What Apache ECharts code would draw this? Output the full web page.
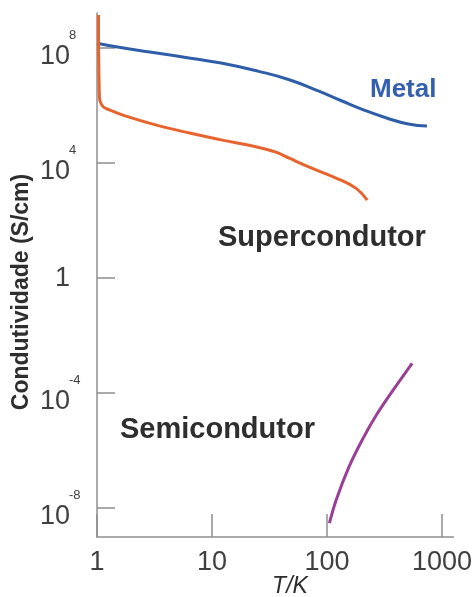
<!DOCTYPE html>
<html><head><meta charset="utf-8">
<script src="https://cdn.jsdelivr.net/npm/echarts@6/dist/echarts.min.js"></script>
<style>html,body{margin:0;padding:0;background:#fff}#c{width:475px;height:597px}</style>
</head><body><div id="c"></div>
<script>
// x: temperature T (K); y: log10 of conductivity (S/cm)
const xTickValues = [1, 10, 100, 1000];
const yTickExponents = [-8, -4, 0, 4, 8];

const metalT    = [1, 1.7, 3.3, 6.5, 12, 25, 47, 85, 135, 205, 330, 510, 740];
const metalLogS = [8.17, 8.0, 7.83, 7.65, 7.48, 7.20, 6.90, 6.50, 6.16, 5.86, 5.57, 5.36, 5.29];

const superT    = [1.03, 1.05, 1.12, 1.3, 1.68, 3.3, 6.5, 12.3, 24.5, 36, 47, 71, 120, 178, 224];
const superLogS = [9.15, 6.3, 5.98, 5.84, 5.67, 5.32, 5.04, 4.80, 4.56, 4.38, 4.17, 3.85, 3.48, 3.13, 2.71];

const semiT     = [105, 120, 155, 204, 269, 372, 550];
const semiLogS  = [-8.52, -7.72, -6.57, -5.60, -4.76, -3.92, -2.96];

const FONT = '"Liberation Sans", Arial, sans-serif';
const toPts = (xs, ys) => xs.map((t, i) => [Math.log10(t), ys[i]]);

const chart = echarts.init(document.getElementById('c'), null, {renderer: 'canvas'});
const axisColor = '#8f8f8f';
const labelColor = '#404040';

chart.setOption({
  animation: false,
  backgroundColor: '#fff',
  grid: {left: 97, right: 20, top: 13, bottom: 60, containLabel: false},
  xAxis: {
    type: 'value', min: 0, max: 3.1,
    axisLine: {onZero: false, lineStyle: {color: axisColor, width: 1.5}},
    axisTick: {inside: true, length: 23, lineStyle: {color: axisColor, width: 1.5},
               customValues: xTickValues.map(v => Math.log10(v))},
    axisLabel: {customValues: xTickValues.map(v => Math.log10(v)),
                formatter: v => String(Math.round(Math.pow(10, v))),
                fontSize: 27, color: labelColor, fontFamily: FONT, margin: 12},
    splitLine: {show: false}
  },
  yAxis: [{
    type: 'value', min: -9, max: 9.22,
    axisLine: {show: true, onZero: false, lineStyle: {color: axisColor, width: 1.5}},
    axisTick: {show: true, inside: true, length: 18, lineStyle: {color: axisColor, width: 1.5},
               customValues: yTickExponents},
    axisLabel: {customValues: yTickExponents,
                formatter: v => v === 0 ? '{o|1}' : '{b|10}',
                rich: {b: {fontSize: 27, padding: [16, 0, 0, 0], color: labelColor, fontFamily: FONT},
                       o: {fontSize: 27, color: labelColor, fontFamily: FONT}},
                margin: 27},
    splitLine: {show: false}
  }, {
    type: 'value', min: -9, max: 9.22, position: 'left', offset: 0,
    axisLine: {show: false}, axisTick: {show: false},
    axisLabel: {customValues: yTickExponents.filter(v => v !== 0),
                formatter: v => '{s|' + v + '}',
                rich: {s: {fontSize: 13, padding: [0, 0, 26, 0], color: labelColor, fontFamily: FONT}},
                align: 'left', margin: 28},
    splitLine: {show: false}
  }],
  series: [
    {type: 'line', name: 'Metal', data: toPts(metalT, metalLogS), smooth: 0.5,
     symbol: 'none', lineStyle: {color: '#2f5ea9', width: 3}},
    {type: 'line', name: 'Supercondutor', data: toPts(superT, superLogS), smooth: 0.4,
     symbol: 'none', lineStyle: {color: '#e8642e', width: 3}},
    {type: 'line', name: 'Semicondutor', data: toPts(semiT, semiLogS), smooth: 0.35,
     symbol: 'none', lineStyle: {color: '#9a3f96', width: 3}}
  ],
  graphic: [
    {type: 'text', style: {x: 370, y: 90, text: 'Metal', fill: '#3560ad',
      font: 'bold 26px ' + FONT, textAlign: 'left', textVerticalAlign: 'middle'}},
    {type: 'text', style: {x: 218, y: 238, text: 'Supercondutor', fill: '#2e2e2e',
      font: 'bold 29px ' + FONT, textAlign: 'left', textVerticalAlign: 'middle'}},
    {type: 'text', style: {x: 120, y: 430, text: 'Semicondutor', fill: '#2e2e2e',
      font: 'bold 29px ' + FONT, textAlign: 'left', textVerticalAlign: 'middle'}},
    {type: 'text', x: 22, y: 292, rotation: Math.PI / 2,
     style: {x: 0, y: 0, text: 'Condutividade (S/cm)', fill: '#2e2e2e',
      font: 'bold 23px ' + FONT, textAlign: 'center', textVerticalAlign: 'middle'}},
    {type: 'text', style: {x: 290, y: 587, text: 'T/K', fill: '#2e2e2e',
      font: 'italic 23px ' + FONT, textAlign: 'center', textVerticalAlign: 'middle'}}
  ]
});
</script></body></html>
